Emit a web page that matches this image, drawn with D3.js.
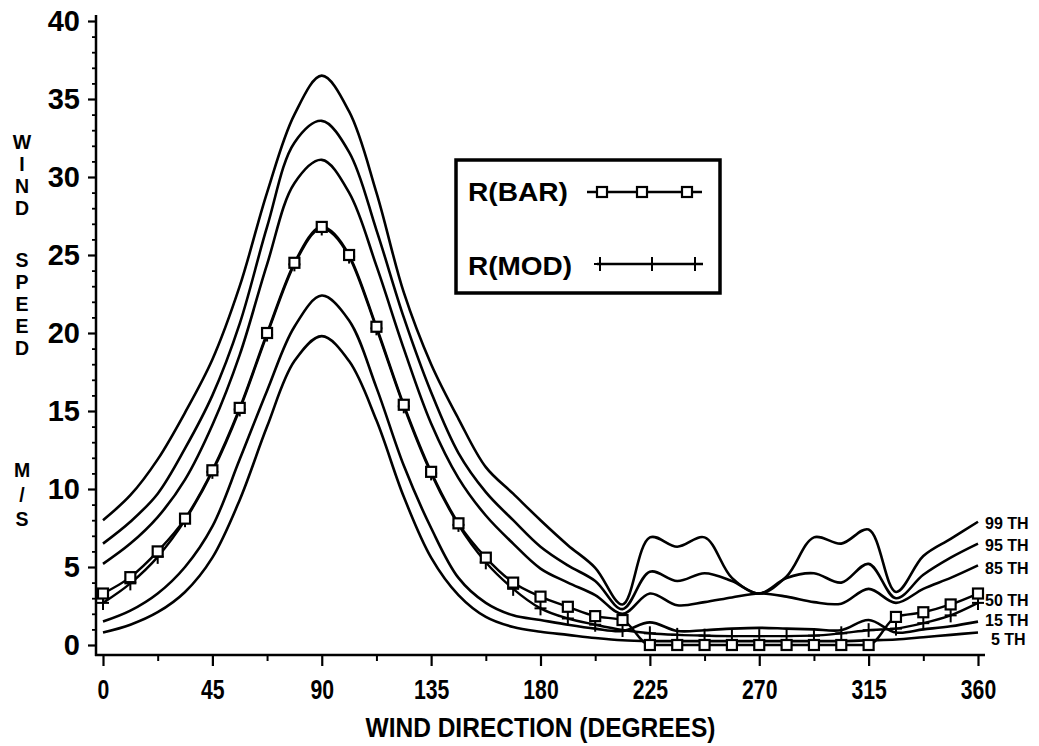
<!DOCTYPE html>
<html><head><meta charset="utf-8">
<script src="https://cdn.jsdelivr.net/npm/d3@7"></script>
<style>body{margin:0;background:#fff}svg{display:block}</style>
</head><body>
<svg id="chart" width="1039" height="746"></svg>
<script>
// ---------------- data ----------------
const directions = [0,11.25,22.5,33.75,45,56.25,67.5,78.75,90,101.25,112.5,123.75,135,146.25,157.5,168.75,180,191.25,202.5,213.75,225,236.25,247.5,258.75,270,281.25,292.5,303.75,315,326.25,337.5,348.75,360];
const p99 = [8.0,9.6,11.9,14.9,18.3,23.0,29.0,34.0,36.5,34.2,29.0,22.6,18.0,14.5,11.4,9.7,8.0,6.4,4.95,2.6,6.9,6.3,6.9,4.3,3.3,4.4,6.9,6.5,7.4,3.4,5.7,6.8,7.9];
const p95 = [6.5,7.9,9.7,12.6,16.0,20.6,26.8,32.2,33.6,31.6,26.6,21.0,16.2,12.3,9.8,8.0,6.3,5.1,4.1,2.3,4.7,4.1,4.6,4.1,3.3,4.3,4.6,4.0,5.2,3.0,4.5,5.6,6.5];
const p85 = [5.2,6.5,8.2,10.6,14.1,18.6,24.4,29.6,31.1,29.0,24.3,19.0,14.2,10.7,8.3,6.5,4.9,4.0,3.2,2.0,3.3,2.55,2.75,3.05,3.3,3.1,2.75,2.65,3.6,2.7,3.6,4.3,5.1];
const p15 = [1.5,2.2,3.3,5.0,7.6,11.9,16.3,20.4,22.4,20.8,16.5,11.5,7.5,4.3,2.7,1.9,1.6,1.3,1.05,0.9,1.45,0.9,0.95,1.05,1.1,1.05,1.0,0.95,1.6,0.8,1.0,1.2,1.5];
const p5  = [0.8,1.3,2.1,3.4,5.6,9.3,14.0,18.2,19.8,18.2,14.4,9.5,5.6,3.2,1.8,1.15,0.85,0.65,0.45,0.3,0.25,0.25,0.25,0.25,0.25,0.25,0.25,0.25,0.3,0.35,0.5,0.65,0.8];
const rBar = [3.3,4.35,6.0,8.1,11.2,15.2,20.0,24.5,26.8,25.0,20.4,15.4,11.1,7.8,5.6,4.0,3.1,2.45,1.85,1.6,0,0,0,0,0,0,0,0,0,1.8,2.1,2.6,3.3];
const rMod = [2.7,3.95,5.65,8.0,11.1,15.1,19.9,24.4,26.7,24.9,20.3,15.3,11.0,7.7,5.3,3.6,2.35,1.7,1.3,0.96,0.75,0.65,0.6,0.57,0.57,0.57,0.6,0.75,0.95,1.05,1.4,1.9,2.7];

const percentileSeries = [p99, p95, p85, p15, p5];
const percentileLabels = ["99 TH","95 TH","85 TH","50 TH","15 TH","5 TH"];
const legendLabels = ["R(BAR)","R(MOD)"];
const xTickValues = [0,45,90,135,180,225,270,315,360];
const xMinorTickValues = [22.5,67.5,112.5,157.5,202.5,247.5,292.5,337.5];
const yTickValues = [0,5,10,15,20,25,30,35,40];
const yMinorTickValues = [1,2,3,4,6,7,8,9,11,12,13,14,16,17,18,19,21,22,23,24,26,27,28,29,31,32,33,34,36,37,38,39];
const xTitle = "WIND DIRECTION (DEGREES)";
const yTitleWords = ["WIND","SPEED","M/S"];

// ---------------- drawing ----------------
const svg = d3.select("#chart");
const x = d3.scaleLinear().domain([0,360]).range([103,978]);
const y = d3.scaleLinear().domain([0,40]).range([645,21]);
const INK = "#000";
const sansBold = "'Liberation Sans', Arial, Helvetica, sans-serif";

// axes
const xAxisY = 655, yAxisX = 96;
const gx = svg.append("g").attr("transform", `translate(0,${xAxisY})`)
  .call(d3.axisBottom(x).tickValues(xTickValues).tickSize(11).tickFormat(d3.format("d")));
gx.select(".domain").remove();
gx.selectAll("line").attr("stroke", INK).attr("stroke-width", 2.2);
gx.selectAll("text").attr("y", 24).attr("dy", "0.71em")
  .attr("font-family", sansBold).attr("font-size", 28).attr("font-weight", "bold").attr("fill", INK)
  .attr("textLength", d => String(d).length * 11.8).attr("lengthAdjust", "spacingAndGlyphs");
const gxm = svg.append("g").attr("transform", `translate(0,${xAxisY})`)
  .call(d3.axisBottom(x).tickValues(xMinorTickValues).tickSize(6).tickFormat(""));
gxm.select(".domain").remove();
gxm.selectAll("line").attr("stroke", INK).attr("stroke-width", 2);

const gy = svg.append("g").attr("transform", `translate(${yAxisX},0)`)
  .call(d3.axisLeft(y).tickValues(yTickValues).tickSize(8).tickPadding(8));
gy.select(".domain").remove();
gy.selectAll("line").attr("stroke", INK).attr("stroke-width", 2.2);
gy.selectAll("text").attr("font-family", sansBold).attr("font-size", 29)
  .attr("font-weight", "bold").attr("fill", INK);
const gym = svg.append("g").attr("transform", `translate(${yAxisX},0)`)
  .call(d3.axisLeft(y).tickValues(yMinorTickValues).tickSize(4).tickFormat(""));
gym.select(".domain").remove();
gym.selectAll("line").attr("stroke", INK).attr("stroke-width", 1.8);

svg.append("line").attr("x1", yAxisX - 1).attr("x2", 985).attr("y1", xAxisY).attr("y2", xAxisY)
  .attr("stroke", INK).attr("stroke-width", 2.5);
svg.append("line").attr("x1", yAxisX).attr("x2", yAxisX).attr("y1", xAxisY + 1).attr("y2", 15)
  .attr("stroke", INK).attr("stroke-width", 2.5);

// titles
svg.append("text").attr("x", (x(0) + x(360)) / 2).attr("y", 737).attr("text-anchor", "middle")
  .attr("font-family", sansBold).attr("font-size", 27).attr("font-weight", "bold")
  .attr("textLength", 350).attr("lengthAdjust", "spacingAndGlyphs").attr("fill", INK).text(xTitle);

// vertical stacked y title: one upright vertical text per word
const wordTop = [131, 249, 459];
const wordSpacing = [0, 0, 2.5];
yTitleWords.forEach((word, w) => {
  svg.append("text").attr("x", 22).attr("y", wordTop[w])
    .attr("writing-mode", "vertical-rl")
    .style("writing-mode", "vertical-rl").style("text-orientation", "upright")
    .attr("letter-spacing", wordSpacing[w])
    .attr("font-family", sansBold).attr("font-weight", "bold")
    .attr("font-size", 19.5).attr("fill", INK).text(word);
});

// curves
const smooth = d3.line().x((d, i) => x(directions[i])).y(d => y(d)).curve(d3.curveCatmullRom.alpha(0.5));
const mono = d3.line().x((d, i) => x(directions[i])).y(d => y(d)).curve(d3.curveMonotoneX);

svg.append("g").selectAll("path").data(percentileSeries).join("path")
  .attr("d", smooth).attr("fill", "none").attr("stroke", INK).attr("stroke-width", 2.6)
  .attr("stroke-linejoin", "round");

svg.append("path").attr("d", mono(rMod)).attr("fill", "none").attr("stroke", INK).attr("stroke-width", 2.4);
svg.append("path").attr("d", mono(rBar)).attr("fill", "none").attr("stroke", INK).attr("stroke-width", 2.4);

function plus(g, cx, cy) {
  g.append("line").attr("x1", cx - 6).attr("x2", cx + 6).attr("y1", cy).attr("y2", cy)
    .attr("stroke", INK).attr("stroke-width", 2);
  g.append("line").attr("x1", cx).attr("x2", cx).attr("y1", cy - 7).attr("y2", cy + 7)
    .attr("stroke", INK).attr("stroke-width", 2);
}
function square(g, cx, cy) {
  g.append("rect").attr("x", cx - 5).attr("y", cy - 5).attr("width", 10).attr("height", 10)
    .attr("fill", "#fff").attr("stroke", INK).attr("stroke-width", 2.2);
}
const gMod = svg.append("g");
rMod.forEach((v, i) => plus(gMod, x(directions[i]), y(v)));
const gBar = svg.append("g");
rBar.forEach((v, i) => square(gBar, x(directions[i]), y(v)));

// right-end percentile labels (placed beside each series' last value)
const endValues = [p99[32], p95[32], p85[32], (rBar[32] + rMod[32]) / 2, p15[32], p5[32]];
const labelNudge = [2, 2, 3, 2, -1, 7];
svg.append("g").selectAll("text").data(percentileLabels).join("text")
  .attr("x", (d, i) => i === 5 ? 991 : 985)
  .attr("y", (d, i) => y(endValues[i]) + labelNudge[i])
  .attr("dy", "0.35em").attr("font-family", sansBold).attr("font-size", 16).attr("font-weight", "bold")
  .attr("fill", INK).text(d => d);

// legend
const lg = svg.append("g");
lg.append("rect").attr("x", 456).attr("y", 160).attr("width", 264).attr("height", 133)
  .attr("fill", "#fff").attr("stroke", INK).attr("stroke-width", 3.5);
lg.append("text").attr("x", 468).attr("y", 192).attr("dy", "0.35em")
  .attr("font-family", sansBold).attr("font-weight", "bold").attr("font-size", 25)
  .attr("textLength", 100).attr("lengthAdjust", "spacingAndGlyphs").attr("fill", INK).text(legendLabels[0]);
lg.append("text").attr("x", 468).attr("y", 266).attr("dy", "0.35em")
  .attr("font-family", sansBold).attr("font-weight", "bold").attr("font-size", 25)
  .attr("textLength", 104).attr("lengthAdjust", "spacingAndGlyphs").attr("fill", INK).text(legendLabels[1]);
lg.append("line").attr("x1", 587).attr("x2", 702).attr("y1", 192).attr("y2", 192).attr("stroke", INK).attr("stroke-width", 2.4);
[602, 642, 687].forEach(cx => square(lg, cx, 192));
lg.append("line").attr("x1", 597).attr("x2", 703).attr("y1", 264).attr("y2", 264).attr("stroke", INK).attr("stroke-width", 2.4);
[600, 652, 695].forEach(cx => plus(lg, cx, 264));
</script>
</body></html>
